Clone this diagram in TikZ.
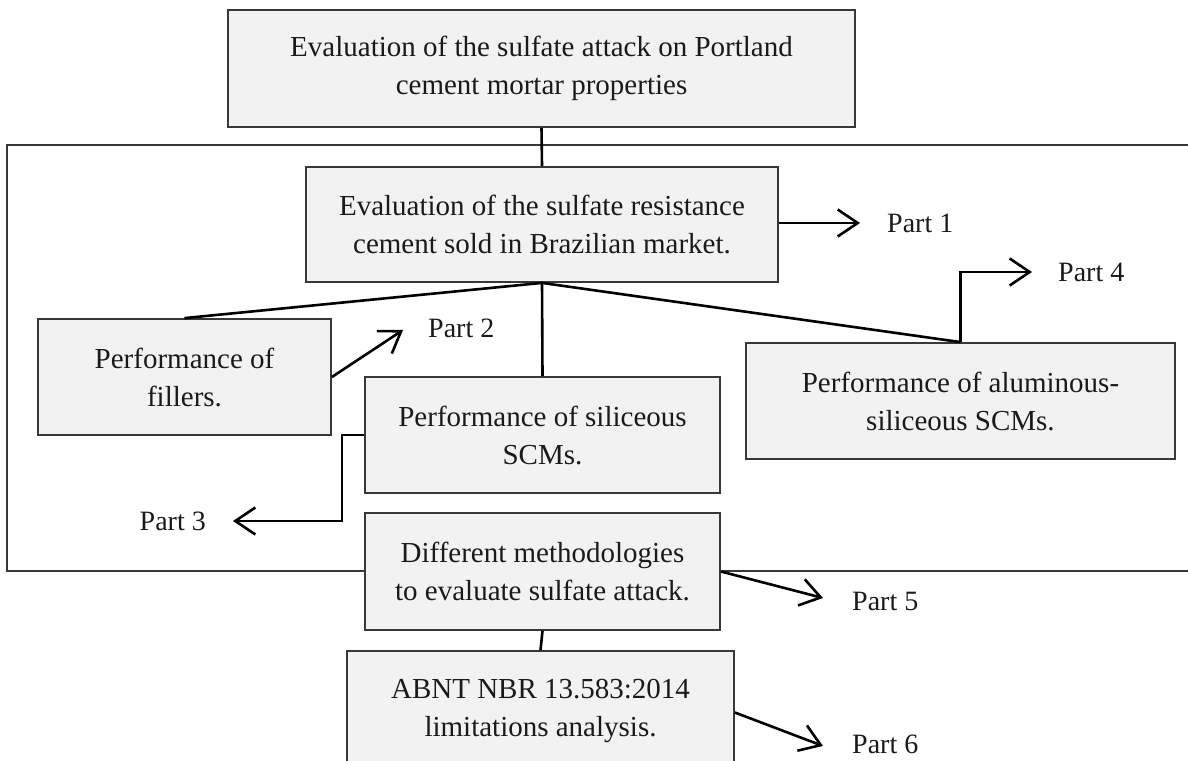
\documentclass[tikz,border=0pt]{standalone}
\usepackage{fontspec}
\setmainfont{Liberation Serif}
\usetikzlibrary{arrows.meta,calc}
\definecolor{boxfill}{HTML}{F2F2F2}
\definecolor{boxline}{HTML}{383838}
\definecolor{txtcol}{HTML}{1A1A1A}
\begin{document}
\begin{tikzpicture}[x=1pt,y=-1pt,
  box/.style={draw=boxline, fill=boxfill, line width=1.8pt, align=center, inner sep=0pt,
    font=\fontsize{29}{38}\selectfont, text=txtcol},
  frame/.style={draw=boxline, line width=1.6pt},
  conn/.style={line width=2.6pt, draw=black},
  arr/.style={conn, -{Straight Barb[length=20pt,width=27pt,line width=2.6pt]}},
  lbl/.style={font=\fontsize{28}{33}\selectfont, inner sep=0pt, text=txtcol}]
\useasboundingbox (0,0) rectangle (1188,760);
% outer frame (right side off the picture)
\draw[frame] (1200,145) -- (7,145) -- (7,571) -- (1200,571);
% boxes
\node[box, minimum width=627pt, minimum height=117pt] (A) at (541.5,68.5)
  {Evaluation of the sulfate attack on Portland\\cement mortar properties};
\node[box, minimum width=472pt, minimum height=115pt] (B) at (542,224.5)
  {Evaluation of the sulfate resistance\\cement sold in Brazilian market.};
\node[box, minimum width=293pt, minimum height=116pt] (C) at (184.5,377)
  {Performance of\\fillers.};
\node[box, minimum width=355pt, minimum height=116pt] (D) at (542.5,435)
  {Performance of siliceous\\SCMs.};
\node[box, minimum width=429pt, minimum height=116pt] (E) at (960.5,401)
  {Performance of aluminous-\\siliceous SCMs.};
\node[box, minimum width=355pt, minimum height=117pt] (F) at (542.5,571.5)
  {Different methodologies\\to evaluate sulfate attack.};
\node[box, minimum width=387pt, minimum height=125pt] (G) at (540.5,713.5) {};
\node[lbl, align=center, font=\fontsize{29}{38}\selectfont] (Gt) at (540.5,711)
  {ABNT NBR 13.583:2014\\limitations analysis.};
% tree connectors
\draw[conn] (A.south) -- (B.north);
\draw[conn] (B.south) -- (C.north);
\draw[conn] (B.south) -- (D.north);
\draw[conn] (B.south) -- (E.north);
\draw[conn] (F.south) -- (G.north);
% part arrows
\coordinate (p1) at (860,223);
\coordinate (p2) at (403,330);
\coordinate (p3) at (233,521);
\coordinate (p4) at (1032,272);
\coordinate (p5) at (823,598);
\coordinate (p6) at (823,746);
\draw[arr] (B.east |- p1) -- (p1);
\draw[arr] (C.east) -- (p2);
\draw[arr] (D.west) -- ++(-22,0) |- (p3);
\draw[arr] (E.north) |- (p4);
\draw[arr] (F.east) -- (p5);
\draw[arr] ($(G.east)+(0,-1)$) -- (p6);
% labels
\node[lbl, anchor=west] (L1) at (887,223) {Part 1};
\node[lbl, anchor=west] (L2) at (428,328) {Part 2};
\node[lbl, anchor=east] (L3) at (206,521) {Part 3};
\node[lbl, anchor=west] (L4) at (1058,272) {Part 4};
\node[lbl, anchor=west] (L5) at (852,601) {Part 5};
\node[lbl, anchor=west] (L6) at (852,744) {Part 6};
\end{tikzpicture}
\end{document}
